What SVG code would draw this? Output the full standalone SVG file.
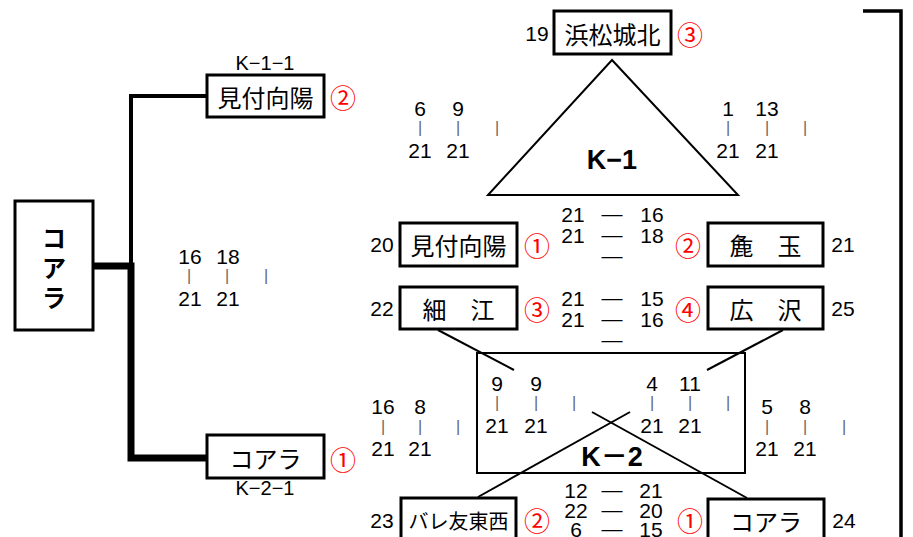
<svg xmlns="http://www.w3.org/2000/svg" width="913" height="537" viewBox="0 0 913 537">
<style>
text{dominant-baseline:central;text-anchor:middle}
.bx{fill:#fff;stroke:#000;stroke-width:3}
.nm{font-family:"Noto Sans CJK JP",sans-serif;font-size:24px;fill:#000}
.sm{font-family:"Noto Sans CJK JP",sans-serif;font-size:20px;fill:#000}
.rd{font-family:"Noto Sans CJK JP",sans-serif;font-size:26px;fill:#f00}
.s{font-family:"Liberation Sans",Arial,sans-serif;font-size:21px;fill:#000}
.b{font-family:"Liberation Sans",Arial,sans-serif;font-size:16px;fill:#666}
.lb{font-family:"Liberation Sans","Noto Sans CJK JP",sans-serif;font-size:20px;fill:#000}
.big{font-family:"Liberation Sans","Noto Sans CJK JP",sans-serif;font-size:27px;font-weight:bold;fill:#000}
.ln{fill:none;stroke:#000}
</style>
<g id="connectors">
<path class="ln" d="M207,96 H131 V266" stroke-width="4"/>
<path class="ln" d="M93,266 H131 V458 H207" stroke-width="7"/>
<path class="ln" d="M863,11 H901 V537" stroke-width="3.5"/>
<line class="ln" x1="438" y1="330" x2="514" y2="370" stroke-width="2"/>
<line class="ln" x1="783" y1="330" x2="707" y2="370" stroke-width="2"/>
<line class="ln" x1="592" y1="412" x2="747" y2="498" stroke-width="2"/>
<line class="ln" x1="630" y1="412" x2="478" y2="497" stroke-width="2"/>
</g>
<g id="pool-k1">
<polygon points="612,60 738,195 488,195" fill="none" stroke="#000" stroke-width="2"/>
<text class="big" x="612" y="160">K−1</text>
</g>
<g id="pool-k2">
<rect x="477" y="353" width="268" height="120" fill="none" stroke="#000" stroke-width="2"/>
<text class="big" x="612" y="457">K－2</text>
</g>
<g id="node-koara-main">
<rect class="bx" x="15" y="201" width="78" height="129"/>
<text class="nm" x="54" y="236" font-size="25" font-weight="bold">コ</text>
<text class="nm" x="54" y="266" font-size="25" font-weight="bold">ア</text>
<text class="nm" x="54" y="296" font-size="25" font-weight="bold">ラ</text>
</g>
<g id="node-mitsuke-k11">
<text class="lb" x="265" y="63">K−1−1</text>
<rect class="bx" x="207" y="75" width="117" height="42"/>
<text class="nm" x="265.5" y="96">見付向陽</text>
<text class="rd" x="343" y="96">②</text>
</g>
<g id="node-koara-k21">
<rect class="bx" x="207" y="435" width="117" height="43"/>
<text class="nm" x="265.5" y="457">コアラ</text>
<text class="rd" x="343" y="458">①</text>
<text class="lb" x="265" y="488" font-size="19">K−2−1</text>
</g>
<g id="node-hamamatsu">
<text class="s" x="537" y="33">19</text>
<rect class="bx" x="554" y="11" width="117" height="43"/>
<text class="nm" x="612.5" y="33">浜松城北</text>
<text class="rd" x="690" y="33">③</text>
</g>
<g id="node-mitsuke20">
<text class="s" x="382" y="244">20</text>
<rect class="bx" x="400" y="223" width="117" height="43"/>
<text class="nm" x="458.5" y="244.5">見付向陽</text>
<text class="rd" x="537" y="244">①</text>
</g>
<g id="node-aratama">
<text class="rd" x="688" y="244">②</text>
<rect class="bx" x="708" y="223" width="115" height="43"/>
<text class="nm" x="765.5" y="244.5">麁　玉</text>
<text class="s" x="843" y="244">21</text>
</g>
<g id="node-hosoe">
<text class="s" x="382" y="308">22</text>
<rect class="bx" x="400" y="287" width="117" height="42"/>
<text class="nm" x="458.5" y="308">細　江</text>
<text class="rd" x="537" y="308">③</text>
</g>
<g id="node-hirosawa">
<text class="rd" x="688" y="308">④</text>
<rect class="bx" x="708" y="287" width="115" height="42"/>
<text class="nm" x="765.5" y="308">広　沢</text>
<text class="s" x="843" y="308">25</text>
</g>
<g id="node-baretomo">
<text class="s" x="382" y="520">23</text>
<rect class="bx" x="401" y="498" width="115" height="44"/>
<text class="sm" x="458.5" y="520">バレ友東西</text>
<text class="rd" x="537" y="519">②</text>
</g>
<g id="node-koara24">
<text class="rd" x="690" y="519">①</text>
<rect class="bx" x="708" y="499" width="116" height="44"/>
<text class="nm" x="766" y="520">コアラ</text>
<text class="s" x="844" y="520">24</text>
</g>
<g id="scores">
<text class="s" x="420" y="108">6</text><text class="s" x="458" y="108">9</text>
<text class="b" x="420" y="127">|</text><text class="b" x="458" y="127">|</text><text class="b" x="497" y="127">|</text>
<text class="s" x="420" y="150">21</text><text class="s" x="458" y="150">21</text>
<text class="s" x="728" y="108">1</text><text class="s" x="767" y="108">13</text>
<text class="b" x="728" y="127">|</text><text class="b" x="767" y="127">|</text><text class="b" x="805" y="127">|</text>
<text class="s" x="728" y="150">21</text><text class="s" x="767" y="150">21</text>
<text class="s" x="190" y="256">16</text><text class="s" x="228" y="256">18</text>
<text class="b" x="189" y="275">|</text><text class="b" x="227" y="275">|</text><text class="b" x="266" y="275">|</text>
<text class="s" x="190" y="298">21</text><text class="s" x="228" y="298">21</text>
<text class="s" x="573" y="214">21</text><text class="s" x="612" y="213">—</text><text class="s" x="652" y="214">16</text>
<text class="s" x="573" y="235">21</text><text class="s" x="612" y="234">—</text><text class="s" x="652" y="235">18</text>
<text class="s" x="612" y="255">—</text>
<text class="s" x="573" y="298">21</text><text class="s" x="612" y="297">—</text><text class="s" x="652" y="298">15</text>
<text class="s" x="573" y="319">21</text><text class="s" x="612" y="318">—</text><text class="s" x="652" y="319">16</text>
<text class="s" x="612" y="339">—</text>
<text class="s" x="497" y="383">9</text><text class="s" x="536" y="383">9</text>
<text class="b" x="497" y="402">|</text><text class="b" x="536" y="402">|</text><text class="b" x="574" y="402">|</text>
<text class="s" x="497" y="425">21</text><text class="s" x="536" y="425">21</text>
<text class="s" x="652" y="383">4</text><text class="s" x="690" y="383">11</text>
<text class="b" x="652" y="402">|</text><text class="b" x="690" y="402">|</text><text class="b" x="728" y="402">|</text>
<text class="s" x="652" y="425">21</text><text class="s" x="690" y="425">21</text>
<text class="s" x="383" y="406">16</text><text class="s" x="420" y="406">8</text>
<text class="b" x="383" y="426">|</text><text class="b" x="420" y="426">|</text><text class="b" x="458" y="426">|</text>
<text class="s" x="383" y="448">21</text><text class="s" x="420" y="448">21</text>
<text class="s" x="767" y="406">5</text><text class="s" x="805" y="406">8</text>
<text class="b" x="767" y="426">|</text><text class="b" x="805" y="426">|</text><text class="b" x="844" y="426">|</text>
<text class="s" x="767" y="448">21</text><text class="s" x="805" y="448">21</text>
<text class="s" x="576" y="490">12</text><text class="s" x="612" y="489">—</text><text class="s" x="651" y="490">21</text>
<text class="s" x="576" y="510">22</text><text class="s" x="612" y="509">—</text><text class="s" x="651" y="510">20</text>
<text class="s" x="576" y="529">6</text><text class="s" x="612" y="528">—</text><text class="s" x="651" y="529">15</text>
</g>
</svg>
